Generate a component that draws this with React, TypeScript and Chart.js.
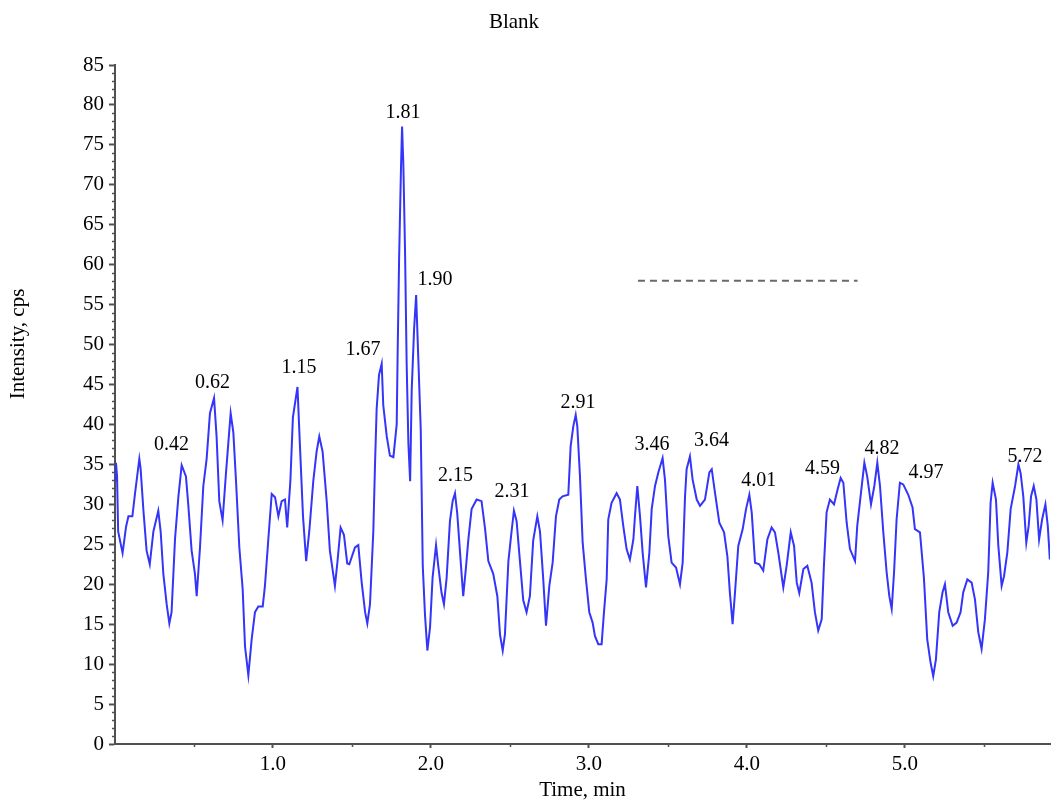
import React, { useEffect, useRef } from 'react';
import { Chart, registerables } from 'chart.js';

Chart.register(...registerables);

// ---- Data ----
const chartTitle = 'Blank';
const xAxisTitle = 'Time, min';
const yAxisTitle = 'Intensity, cps';

const times = [
  0.000, 0.006, 0.013, 0.020, 0.048, 0.070, 0.085, 0.110, 0.127, 0.154, 0.162, 0.180, 0.200, 0.220, 0.243, 0.274, 0.289, 0.306, 0.327, 0.344,
  0.358, 0.380, 0.401, 0.422, 0.449, 0.464, 0.485, 0.506, 0.517, 0.538, 0.559, 0.580, 0.601, 0.627, 0.643, 0.660, 0.681, 0.702, 0.717, 0.732,
  0.749, 0.766, 0.787, 0.808, 0.823, 0.844, 0.865, 0.886, 0.907, 0.935, 0.949, 0.970, 0.992, 1.013, 1.034, 1.055, 1.076, 1.090, 1.110, 1.126,
  1.155, 1.170, 1.190, 1.210, 1.230, 1.255, 1.276, 1.293, 1.314, 1.340, 1.360, 1.392, 1.407, 1.428, 1.449, 1.470, 1.483, 1.519, 1.540, 1.561,
  1.583, 1.597, 1.614, 1.635, 1.646, 1.656, 1.671, 1.688, 1.698, 1.720, 1.740, 1.762, 1.783, 1.789, 1.798, 1.810, 1.817, 1.825, 1.836, 1.846,
  1.857, 1.868, 1.878, 1.893, 1.906, 1.920, 1.935, 1.948, 1.962, 1.977, 1.994, 2.010, 2.032, 2.046, 2.067, 2.082, 2.099, 2.120, 2.137, 2.152,
  2.166, 2.183, 2.204, 2.220, 2.236, 2.257, 2.289, 2.320, 2.342, 2.363, 2.394, 2.420, 2.437, 2.454, 2.468, 2.490, 2.510, 2.525, 2.542, 2.563,
  2.584, 2.605, 2.626, 2.647, 2.673, 2.690, 2.710, 2.728, 2.749, 2.770, 2.791, 2.812, 2.833, 2.869, 2.884, 2.901, 2.916, 2.926, 2.943, 2.960,
  2.981, 3.002, 3.023, 3.038, 3.059, 3.080, 3.095, 3.112, 3.122, 3.143, 3.175, 3.196, 3.217, 3.238, 3.259, 3.281, 3.291, 3.306, 3.323, 3.340,
  3.361, 3.382, 3.397, 3.418, 3.439, 3.466, 3.481, 3.502, 3.523, 3.551, 3.576, 3.593, 3.608, 3.618, 3.639, 3.656, 3.682, 3.703, 3.734, 3.762,
  3.777, 3.798, 3.825, 3.855, 3.876, 3.892, 3.909, 3.924, 3.945, 3.973, 3.994, 4.015, 4.030, 4.051, 4.078, 4.103, 4.129, 4.156, 4.177, 4.198,
  4.230, 4.251, 4.277, 4.298, 4.315, 4.331, 4.357, 4.382, 4.409, 4.430, 4.451, 4.473, 4.487, 4.504, 4.525, 4.551, 4.574, 4.593, 4.610, 4.631,
  4.652, 4.684, 4.698, 4.719, 4.743, 4.761, 4.785, 4.806, 4.825, 4.842, 4.863, 4.884, 4.901, 4.916, 4.931, 4.947, 4.968, 4.989, 5.021, 5.048,
  5.063, 5.095, 5.120, 5.141, 5.162, 5.179, 5.196, 5.217, 5.238, 5.253, 5.274, 5.302, 5.327, 5.352, 5.369, 5.395, 5.422, 5.443, 5.464, 5.485,
  5.506, 5.527, 5.542, 5.555, 5.576, 5.591, 5.612, 5.627, 5.648, 5.669, 5.697, 5.718, 5.732, 5.749, 5.768, 5.783, 5.798, 5.815, 5.832, 5.849,
  5.868, 5.889, 5.904, 5.917,
];

const intensities = [
  33.0, 35.2, 33.5, 26.6, 23.9, 27.2, 28.5, 28.5, 31.4, 35.7, 34.5, 29.2, 24.2, 22.5, 26.6, 29.2, 26.6, 21.3, 17.5, 15.1,
  16.5, 25.7, 30.9, 34.9, 33.5, 29.9, 24.2, 21.3, 18.5, 24.6, 32.3, 35.7, 41.4, 43.3, 38.5, 30.4, 28.0, 33.8, 37.6, 41.4,
  39.0, 32.9, 24.6, 19.4, 12.2, 8.6, 13.1, 16.5, 17.2, 17.2, 19.8, 25.5, 31.3, 30.9, 28.5, 30.4, 30.6, 27.1, 32.9, 40.9,
  44.7, 37.6, 28.5, 22.9, 26.7, 32.9, 36.6, 38.5, 36.6, 30.4, 24.2, 19.8, 22.6, 27.1, 26.2, 22.6, 22.5, 24.6, 24.9, 20.3,
  16.5, 15.1, 17.5, 26.6, 35.2, 41.9, 46.2, 47.6, 42.4, 38.5, 36.1, 35.9, 40.0, 49.0, 60.5, 72.0, 77.3, 72.6, 61.5, 47.6,
  37.6, 32.9, 44.3, 51.9, 56.2, 48.1, 39.5, 22.3, 16.2, 11.7, 14.6, 20.8, 24.9, 22.3, 18.9, 17.5, 20.8, 27.9, 30.4, 31.4,
  28.9, 24.2, 18.5, 21.8, 25.5, 29.4, 30.6, 30.4, 27.0, 22.9, 21.3, 18.5, 13.7, 11.7, 13.7, 22.9, 26.6, 29.2, 27.9, 22.9,
  18.0, 16.5, 18.5, 25.5, 28.5, 26.6, 20.8, 14.8, 19.8, 22.7, 28.5, 30.6, 31.0, 31.2, 37.3, 39.8, 41.2, 39.8, 33.5, 25.2,
  20.6, 16.5, 15.2, 13.5, 12.5, 12.5, 16.5, 20.6, 28.1, 30.2, 31.4, 30.6, 27.3, 24.4, 23.1, 25.6, 28.5, 32.3, 28.5, 23.9,
  19.6, 23.9, 29.4, 32.3, 34.0, 35.8, 33.1, 26.0, 22.7, 22.1, 20.0, 22.7, 31.0, 34.4, 36.0, 33.1, 30.6, 29.8, 30.6, 34.0,
  34.4, 31.4, 27.7, 26.5, 23.5, 18.9, 15.0, 18.9, 24.8, 26.9, 29.4, 31.2, 29.0, 22.7, 22.5, 21.7, 25.6, 27.1, 26.5, 24.0,
  19.6, 22.3, 26.5, 24.8, 20.2, 18.9, 21.9, 22.3, 20.2, 16.5, 14.2, 15.6, 22.3, 29.0, 30.6, 30.0, 31.9, 33.3, 32.7, 27.7,
  24.4, 22.9, 27.3, 31.0, 35.2, 33.5, 30.0, 32.3, 35.2, 32.3, 26.5, 21.5, 18.5, 16.9, 21.5, 28.1, 32.7, 32.5, 31.2, 29.6,
  26.9, 26.5, 20.8, 13.1, 10.2, 8.5, 10.6, 16.5, 19.0, 20.0, 16.5, 14.8, 15.2, 16.5, 19.0, 20.6, 20.2, 18.1, 14.0, 11.9,
  15.6, 21.5, 30.2, 32.7, 30.6, 24.8, 19.8, 21.0, 24.0, 29.4, 32.3, 35.0, 33.9, 31.0, 25.2, 27.3, 31.0, 32.3, 30.6, 25.6,
  28.1, 30.0, 27.3, 23.1,
];

// Peak annotations: text, and the (time, intensity) where the text is centred
const peakLabels = ['0.42', '0.62', '1.15', '1.67', '1.81', '1.90', '2.15', '2.31', '2.91', '3.46', '3.64', '4.01', '4.59', '4.82', '4.97', '5.72'];
const peakLabelTimes = [0.357, 0.617, 1.165, 1.570, 1.823, 2.025, 2.155, 2.513, 2.930, 3.399, 3.775, 4.074, 4.478, 4.854, 5.133, 5.760];
const peakLabelLevels = [37.4, 45.2, 47.1, 49.3, 79.0, 58.1, 33.6, 31.6, 42.7, 37.5, 38.0, 32.9, 34.4, 36.9, 34.0, 35.9];

// Dashed reference line
const refLineTimes = [3.31, 4.70];
const refLineLevel = 58;

// Axes
const xMin = 0;
const xMax = 5.918;
const xMajorTicks = [1, 2, 3, 4, 5];
const xMinorTicks = [0.5, 1.5, 2.5, 3.5, 4.5, 5.5];
const yMin = 0;
const yMax = 85;
const yMajorTicks = [0, 5, 10, 15, 20, 25, 30, 35, 40, 45, 50, 55, 60, 65, 70, 75, 80, 85];
const yMinorStep = 1;

// ---- Styles ----
const FONT = '"Liberation Serif", "Times New Roman", serif';
const AXIS_COLOR = '#505050';
const LINE_COLOR = 'rgb(52, 52, 250)';
const DASH_COLOR = '#6a6a6a';

const decorPlugin = {
  id: 'decor',
  afterDraw(chart: any) {
    const { ctx, chartArea } = chart;
    const x = chart.scales.x;
    const y = chart.scales.y;
    ctx.save();

    // minor ticks
    ctx.strokeStyle = AXIS_COLOR;
    ctx.lineWidth = 1.5;
    for (let v = yMin; v <= yMax; v += yMinorStep) {
      if (yMajorTicks.includes(v)) continue;
      const py = Math.round(y.getPixelForValue(v)) + 0.5;
      ctx.beginPath();
      ctx.moveTo(chartArea.left - 3, py);
      ctx.lineTo(chartArea.left, py);
      ctx.stroke();
    }
    for (const t of xMinorTicks) {
      const px = Math.round(x.getPixelForValue(t)) + 0.5;
      ctx.beginPath();
      ctx.moveTo(px, chartArea.bottom);
      ctx.lineTo(px, chartArea.bottom + 3);
      ctx.stroke();
    }

    // peak labels
    ctx.fillStyle = '#000';
    ctx.font = `20px ${FONT}`;
    ctx.textAlign = 'center';
    ctx.textBaseline = 'middle';
    peakLabels.forEach((s, i) => {
      ctx.fillText(s, x.getPixelForValue(peakLabelTimes[i]), y.getPixelForValue(peakLabelLevels[i]));
    });

    // titles
    ctx.font = `21px ${FONT}`;
    ctx.fillText(chartTitle, 514, 22);
    ctx.fillText(xAxisTitle, (chartArea.left + chartArea.right) / 2, 790);
    ctx.save();
    ctx.translate(18, 344);
    ctx.rotate(-Math.PI / 2);
    ctx.fillText(yAxisTitle, 0, 0);
    ctx.restore();

    ctx.restore();
  },
};

export default function App() {
  const canvasRef = useRef<HTMLCanvasElement | null>(null);

  useEffect(() => {
    const canvas = canvasRef.current;
    if (!canvas) return;
    const chart = new Chart(canvas, {
      type: 'line',
      data: {
        datasets: [
          {
            data: times.map((t, i) => ({ x: t, y: intensities[i] })),
            borderColor: LINE_COLOR,
            borderWidth: 2,
            pointRadius: 0,
            tension: 0,
            fill: false,
          },
          {
            data: refLineTimes.map((t) => ({ x: t, y: refLineLevel })),
            borderColor: DASH_COLOR,
            borderWidth: 2,
            borderDash: [7, 5],
            pointRadius: 0,
            fill: false,
          },
        ],
      },
      options: {
        responsive: false,
        animation: false,
        layout: { padding: { top: 65, right: 1, left: 0, bottom: 0 } },
        plugins: {
          legend: { display: false },
          tooltip: { enabled: false },
          title: { display: false },
        },
        scales: {
          x: {
            type: 'linear',
            min: xMin,
            max: xMax,
            afterBuildTicks: (s: any) => {
              s.ticks = xMajorTicks.map((v) => ({ value: v }));
            },
            afterFit: (s: any) => {
              s.height = 57;
            },
            ticks: {
              autoSkip: false,
              maxRotation: 0,
              padding: 4,
              color: '#000',
              font: { family: FONT, size: 21 },
              callback: (v: any) => Number(v).toFixed(1),
            },
            grid: { drawOnChartArea: false, drawTicks: true, tickLength: 4, tickWidth: 2, tickColor: AXIS_COLOR },
            border: { display: true, color: AXIS_COLOR, width: 2 },
          },
          y: {
            type: 'linear',
            min: yMin,
            max: yMax,
            afterBuildTicks: (s: any) => {
              s.ticks = yMajorTicks.map((v) => ({ value: v }));
            },
            afterFit: (s: any) => {
              s.width = 115;
            },
            ticks: {
              autoSkip: false,
              padding: 5,
              color: '#000',
              font: { family: FONT, size: 21 },
              callback: (v: any) => String(v),
            },
            grid: { drawOnChartArea: false, drawTicks: true, tickLength: 6, tickWidth: 2, tickColor: AXIS_COLOR },
            border: { display: true, color: AXIS_COLOR, width: 2 },
          },
        },
      },
      plugins: [decorPlugin],
    } as any);
    return () => chart.destroy();
  }, []);

  return (
    <div style={{ position: 'absolute', left: 0, top: 0, width: 1051, height: 801, background: '#fff' }}>
      <canvas ref={canvasRef} width={1051} height={801} style={{ display: 'block' }} />
    </div>
  );
}
